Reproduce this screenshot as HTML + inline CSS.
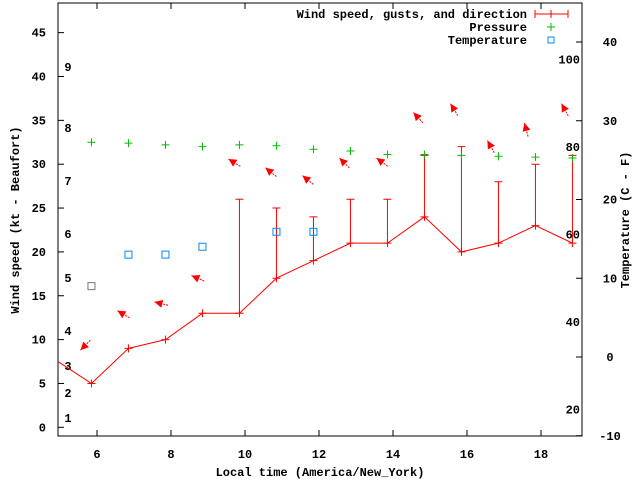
<!DOCTYPE html>
<html><head><meta charset="utf-8"><style>
body{margin:0;background:#fff}
svg{display:block;font-family:"Liberation Mono",monospace;font-size:12px;font-weight:bold}
</style></head><body>
<svg id="c" width="640" height="480"></svg>
<script>
const hours=[5.85,6.85,7.85,8.85,9.85,10.85,11.85,12.85,13.85,14.85,15.85,16.85,17.85,18.85];
const windSpeed=[5,9,10,13,13,17,19,21,21,24,20,21,23,21];
const gusts=[null,null,null,null,26,25,24,26,26,31,32,28,30,31];
const pressure=[32.5,32.4,32.2,32,32.2,32.1,31.7,31.5,31.1,31.1,31,30.9,30.8,30.7];
const tempHours=[5.85,6.85,7.85,8.85,10.85,11.85];
const temperature=[9,13,13,14,15.9,15.9];
const arrowY=[8.8,13.3,14.3,17.3,30.6,29.6,28.7,30.7,30.7,35.9,36.9,32.7,34.7,36.9];
const arrowBearing=[45,121,104,113,122,129,129,135,126,138,148,151,165,151];
const xTicks=[6,8,10,12,14,16,18];
const yTicks=[0,5,10,15,20,25,30,35,40,45];
const y2Ticks=[-10,0,10,20,30,40];
const fLabels=[20,40,60,80,100];
const beaufort=[[1,418],[2,393],[3,366],[4,331],[5,278],[6,234],[7,181],[8,128],[9,67]];
const L=58,R=582,T=3,B=436;
const X=h=>97+(h-6)*37;
const Y=v=>427.3-v*8.77;
const Y2=c=>357-c*7.875;
const YF=f=>Y2((f-32)*5/9);
const s=document.getElementById('c');
function el(t,a,txt){const e=document.createElementNS('http://www.w3.org/2000/svg',t);for(const k in a)e.setAttribute(k,a[k]);if(txt!=null)e.textContent=txt;s.appendChild(e);return e;}
let e;
e=el('rect',{x:L,y:T,width:R-L,height:B-T,fill:'none',stroke:'#000','stroke-width':1});


xTicks.forEach(t=>{
 el('line',{x1:X(t),x2:X(t),y1:B,y2:B-6,stroke:'#000'});
 el('line',{x1:X(t),x2:X(t),y1:T,y2:T+6,stroke:'#000'});
 e=el('text',{x:X(t),y:B+22,'text-anchor':'middle'},t);
 
 
});
yTicks.forEach(t=>{
 el('line',{x1:L,x2:L+6,y1:Y(t),y2:Y(t),stroke:'#000'});
 e=el('text',{x:L-12,y:Y(t)+4,'text-anchor':'end'},t);
 
 
});
y2Ticks.forEach(t=>{
 el('line',{x1:R,x2:R-6,y1:Y2(t),y2:Y2(t),stroke:'#000'});
 e=el('text',{x:R+28,y:Y2(t)+4,'text-anchor':'middle'},t);
 
 
});
fLabels.forEach(f=>{
 e=el('text',{x:580,y:YF(f)+4,'text-anchor':'end'},f);
 
 
});
beaufort.forEach(b=>{
 e=el('text',{x:68,y:b[1]+4,'text-anchor':'middle'},b[0]);
 
 
});
e=el('text',{x:320,y:476,'text-anchor':'middle'},'Local time (America/New_York)');


e=el('text',{x:0,y:0,'text-anchor':'middle',transform:'translate(19,220) rotate(-90)'},'Wind speed (kt - Beaufort)');


e=el('text',{x:0,y:0,'text-anchor':'middle',transform:'translate(629,220) rotate(-90)'},'Temperature (C - F)');


// wind line
let pts=[[L,Y(7.5)]].concat(hours.map((h,i)=>[X(h),Y(windSpeed[i])]));
e=el('polyline',{points:pts.map(p=>p.join(',')).join(' '),fill:'none',stroke:'#f00','stroke-width':1});


hours.forEach((h,i)=>{
 const x=X(h),y=Y(windSpeed[i]);
 if(gusts[i]!=null){
  e=el('path',{d:`M${x},${y}V${Y(gusts[i])}M${x-4},${Y(gusts[i])}H${x+4}`,stroke:'#f00',fill:'none'});
  
  
 }
 e=el('path',{d:`M${x-4},${y}H${x+4}M${x},${y-4}V${y+4}`,stroke:'#f00'});
 
 
 e=el('path',{d:`M${x-4},${Y(pressure[i])}H${x+4}M${x},${Y(pressure[i])-4}V${Y(pressure[i])+4}`,stroke:'#0b0'});
 
 
 const b=arrowBearing[i]*Math.PI/180,dx=Math.sin(b),dy=-Math.cos(b);
 const hx=x-10+ (h===5.85?0:0), hy=Y(arrowY[i]);
 const ax=X(h)-11, tx=ax+dx*14, ty=hy+dy*14;
 const px=-dy,py=dx;
 e=el('path',{d:`M${tx},${ty}L${ax},${hy}`,stroke:'#f00','stroke-dasharray':'2,1'});
 
 
 const bx=ax+dx*8,by=hy+dy*8;
 e=el('polygon',{points:`${ax},${hy} ${bx+px*4},${by+py*4} ${bx-px*4},${by-py*4}`,fill:'#f00'});
 
 
});
tempHours.forEach((h,i)=>{
 e=el('rect',{x:X(h)-3.5,y:Y2(temperature[i])-3.5,width:7,height:7,fill:'none',stroke:i===0?'#777':'#08f'});
 
 
});
// legend
e=el('text',{x:527,y:18,'text-anchor':'end'},'Wind speed, gusts, and direction');


el('path',{d:'M535,14H568M535,10V18M568,10V18M551,10V18',stroke:'#f00'});
e=el('text',{x:527,y:31,'text-anchor':'end'},'Pressure');


el('path',{d:'M547,27H555M551,23V31',stroke:'#0b0'});
e=el('text',{x:527,y:44,'text-anchor':'end'},'Temperature');


el('rect',{x:548,y:37,width:6,height:6,fill:'none',stroke:'#08f'});
</script>
</body></html>
